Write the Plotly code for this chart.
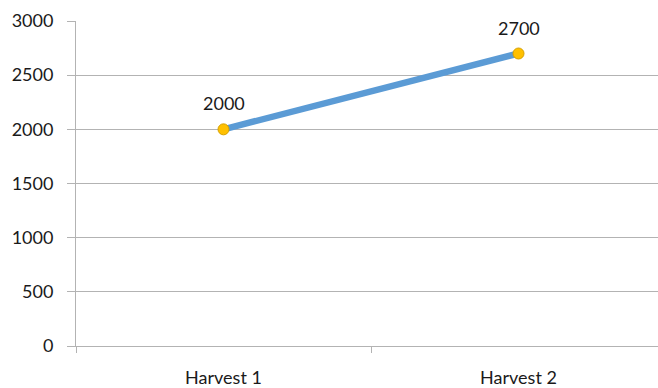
import plotly.graph_objects as go

categories = ["Harvest 1", "Harvest 2"]
values = [2000, 2700]
y_ticks = [0, 500, 1000, 1500, 2000, 2500, 3000]

FONT = "Lato"
GRID = "#b3b3b3"
TXT = "#1a1a1a"

fig = go.Figure()
fig.add_trace(go.Scatter(
    x=categories, y=values,
    mode="lines+markers",
    line=dict(color="#5B9BD5", width=6.5),
    marker=dict(color="#FFC000", size=11, line=dict(color="#D6A100", width=1)),
    cliponaxis=False,
    showlegend=False,
))
for c, v in zip(categories, values):
    fig.add_annotation(x=c, y=v, text=str(v), showarrow=False, yshift=26,
                       font=dict(family=FONT, size=18, color=TXT))

fig.update_layout(
    width=658, height=388,
    margin=dict(l=76, r=0, t=21, b=42),
    paper_bgcolor="white", plot_bgcolor="white",
    font=dict(family=FONT, size=18, color=TXT),
)
fig.update_xaxes(
    type="category",
    range=[-0.5, -0.5 + 582 / 295],
    showgrid=False, zeroline=False,
    showline=True, linecolor=GRID, linewidth=1,
    ticks="outside", tickson="boundaries", ticklen=6, tickcolor=GRID,
    ticklabelstandoff=15,
)
fig.update_yaxes(
    range=[0, 3000], tickvals=y_ticks,
    showgrid=True, gridcolor=GRID, gridwidth=1,
    showline=True, linecolor=GRID, linewidth=1,
    zeroline=False,
    ticks="outside", ticklen=8, tickcolor=GRID,
    ticklabelstandoff=10,
)
fig.write_html("out.html")
